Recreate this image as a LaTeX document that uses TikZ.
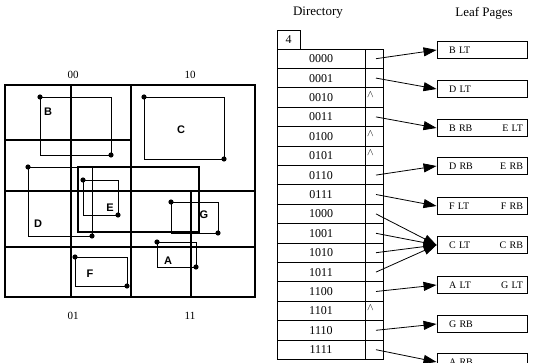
\documentclass[tikz,border=0pt]{standalone}
\usepackage{fontspec}
\setmainfont{Liberation Serif}
\setsansfont{Liberation Sans}
\usetikzlibrary{arrows.meta}

\begin{document}
\begin{tikzpicture}[
    x=1pt, y=-1pt,
    grid/.style={line width=1.1pt},
    obj/.style={line width=0.9pt},
    query/.style={line width=2.6pt},
    objlabel/.style={font=\sffamily\bfseries\fontsize{11}{12}\selectfont, inner sep=0pt},
    quad/.style={font=\fontsize{11}{12}\selectfont, inner sep=0pt},
    title/.style={font=\fontsize{13}{15}\selectfont, inner sep=0pt},
    cell/.style={draw, line width=0.8pt, minimum width=88pt, minimum height=19.4pt, inner sep=0pt, font=\fontsize{12}{13}\selectfont},
    ptr/.style={draw, line width=0.8pt, minimum width=18pt, minimum height=19.4pt, inner sep=0pt},
    nilmark/.style={font=\fontsize{10}{10}\selectfont, inner sep=0pt},
    leaf/.style={draw, line width=0.9pt, minimum width=90pt, minimum height=17pt, text width=82pt, inner xsep=4pt, inner ysep=0pt, align=left, font=\fontsize{10}{12}\selectfont},
    link/.style={-{Triangle[length=13pt, width=9pt]}, line width=0.8pt}
]
\useasboundingbox (0,0) rectangle (533,363);

% Grid of the data space
\draw[grid] (5,85) rectangle (255,297);
\draw[grid] (71,85) -- (71,297);
\draw[grid] (131,85) -- (131,297);
\draw[grid] (191,191) -- (191,297);
\draw[grid] (5,140) -- (131,140);
\draw[grid] (5,191) -- (255,191);
\draw[grid] (5,247) -- (255,247);

% Quadrant labels
\node[quad] (q00) at (73,75) {00};
\node[quad] (q10) at (190,75) {10};
\node[quad] (q01) at (73,316) {01};
\node[quad] (q11) at (190,316) {11};

% Objects with their corner points
\foreach \name/\xa/\ya/\xb/\yb in {B/40/97/111/155, C/144/97/224/159, D/28/167/92/236,
    E/83/180/118/215, G/171/202/218/233, A/157/242/196/267, F/75/257/127/286} {
  \draw[obj] (\xa,\ya) rectangle (\xb,\yb);
  \fill (\xa,\ya) circle (2.6pt);
  \fill (\xb,\yb) circle (2.6pt);
}
\node[objlabel] (labB) at (48,112) {B};
\node[objlabel] (labC) at (181,130) {C};
\node[objlabel] (labD) at (38,224) {D};
\node[objlabel] (labE) at (110,208) {E};
\node[objlabel] (labG) at (204,215) {G};
\node[objlabel] (labA) at (168,261) {A};
\node[objlabel] (labF) at (90,274) {F};

% Query window
\draw[query] (78,167) rectangle (199,232);

% Directory
\node[title] (dirtitle) at (318,13) {Directory};
\node[draw, line width=0.8pt, minimum width=23pt, minimum height=18.5pt, inner sep=0pt,
      font=\fontsize{12}{13}\selectfont] (depth) at (288.5,39.75) {4};
\foreach \bits [count=\k from 0] in {0000,0001,0010,0011,0100,0101,0110,0111,
    1000,1001,1010,1011,1100,1101,1110,1111} {
  \node[cell] (r\k) at (321,58.7+19.4*\k) {\bits};
  \node[ptr] (p\k) at (374,58.7+19.4*\k) {};
}
\foreach \k in {2,4,5,13}
  \node[nilmark] (nil\k) at ([xshift=-3.5pt, yshift=3pt]p\k.center) {$\wedge$};

% Leaf pages
\node[title] (leaftitle) at (484,13) {Leaf Pages};
\node[leaf] (l0) at (482,50)  {\hspace*{8pt}B LT};
\node[leaf] (l1) at (482,89)  {\hspace*{8pt}D LT};
\node[leaf] (l2) at (482,128) {\hspace*{8pt}B RB\hfill E LT};
\node[leaf] (l3) at (482,166) {\hspace*{8pt}D RB\hfill E RB};
\node[leaf] (l4) at (482,206) {\hspace*{8pt}F LT\hfill F RB};
\node[leaf] (l5) at (482,245) {\hspace*{8pt}C LT\hfill C RB};
\node[leaf] (l6) at (482,285) {\hspace*{8pt}A LT\hfill G LT};
\node[leaf] (l7) at (482,324) {\hspace*{8pt}G RB};
\node[leaf] (l8) at (482,362) {\hspace*{8pt}A RB};

% Pointers
\foreach \r/\l in {0/0, 1/1, 3/2, 6/3, 7/4, 8/5, 9/5, 10/5, 11/5, 12/6, 14/7, 15/8}
  \draw[link] ([xshift=2pt]p\r.center) -- (l\l.west);

\end{tikzpicture}
\end{document}
